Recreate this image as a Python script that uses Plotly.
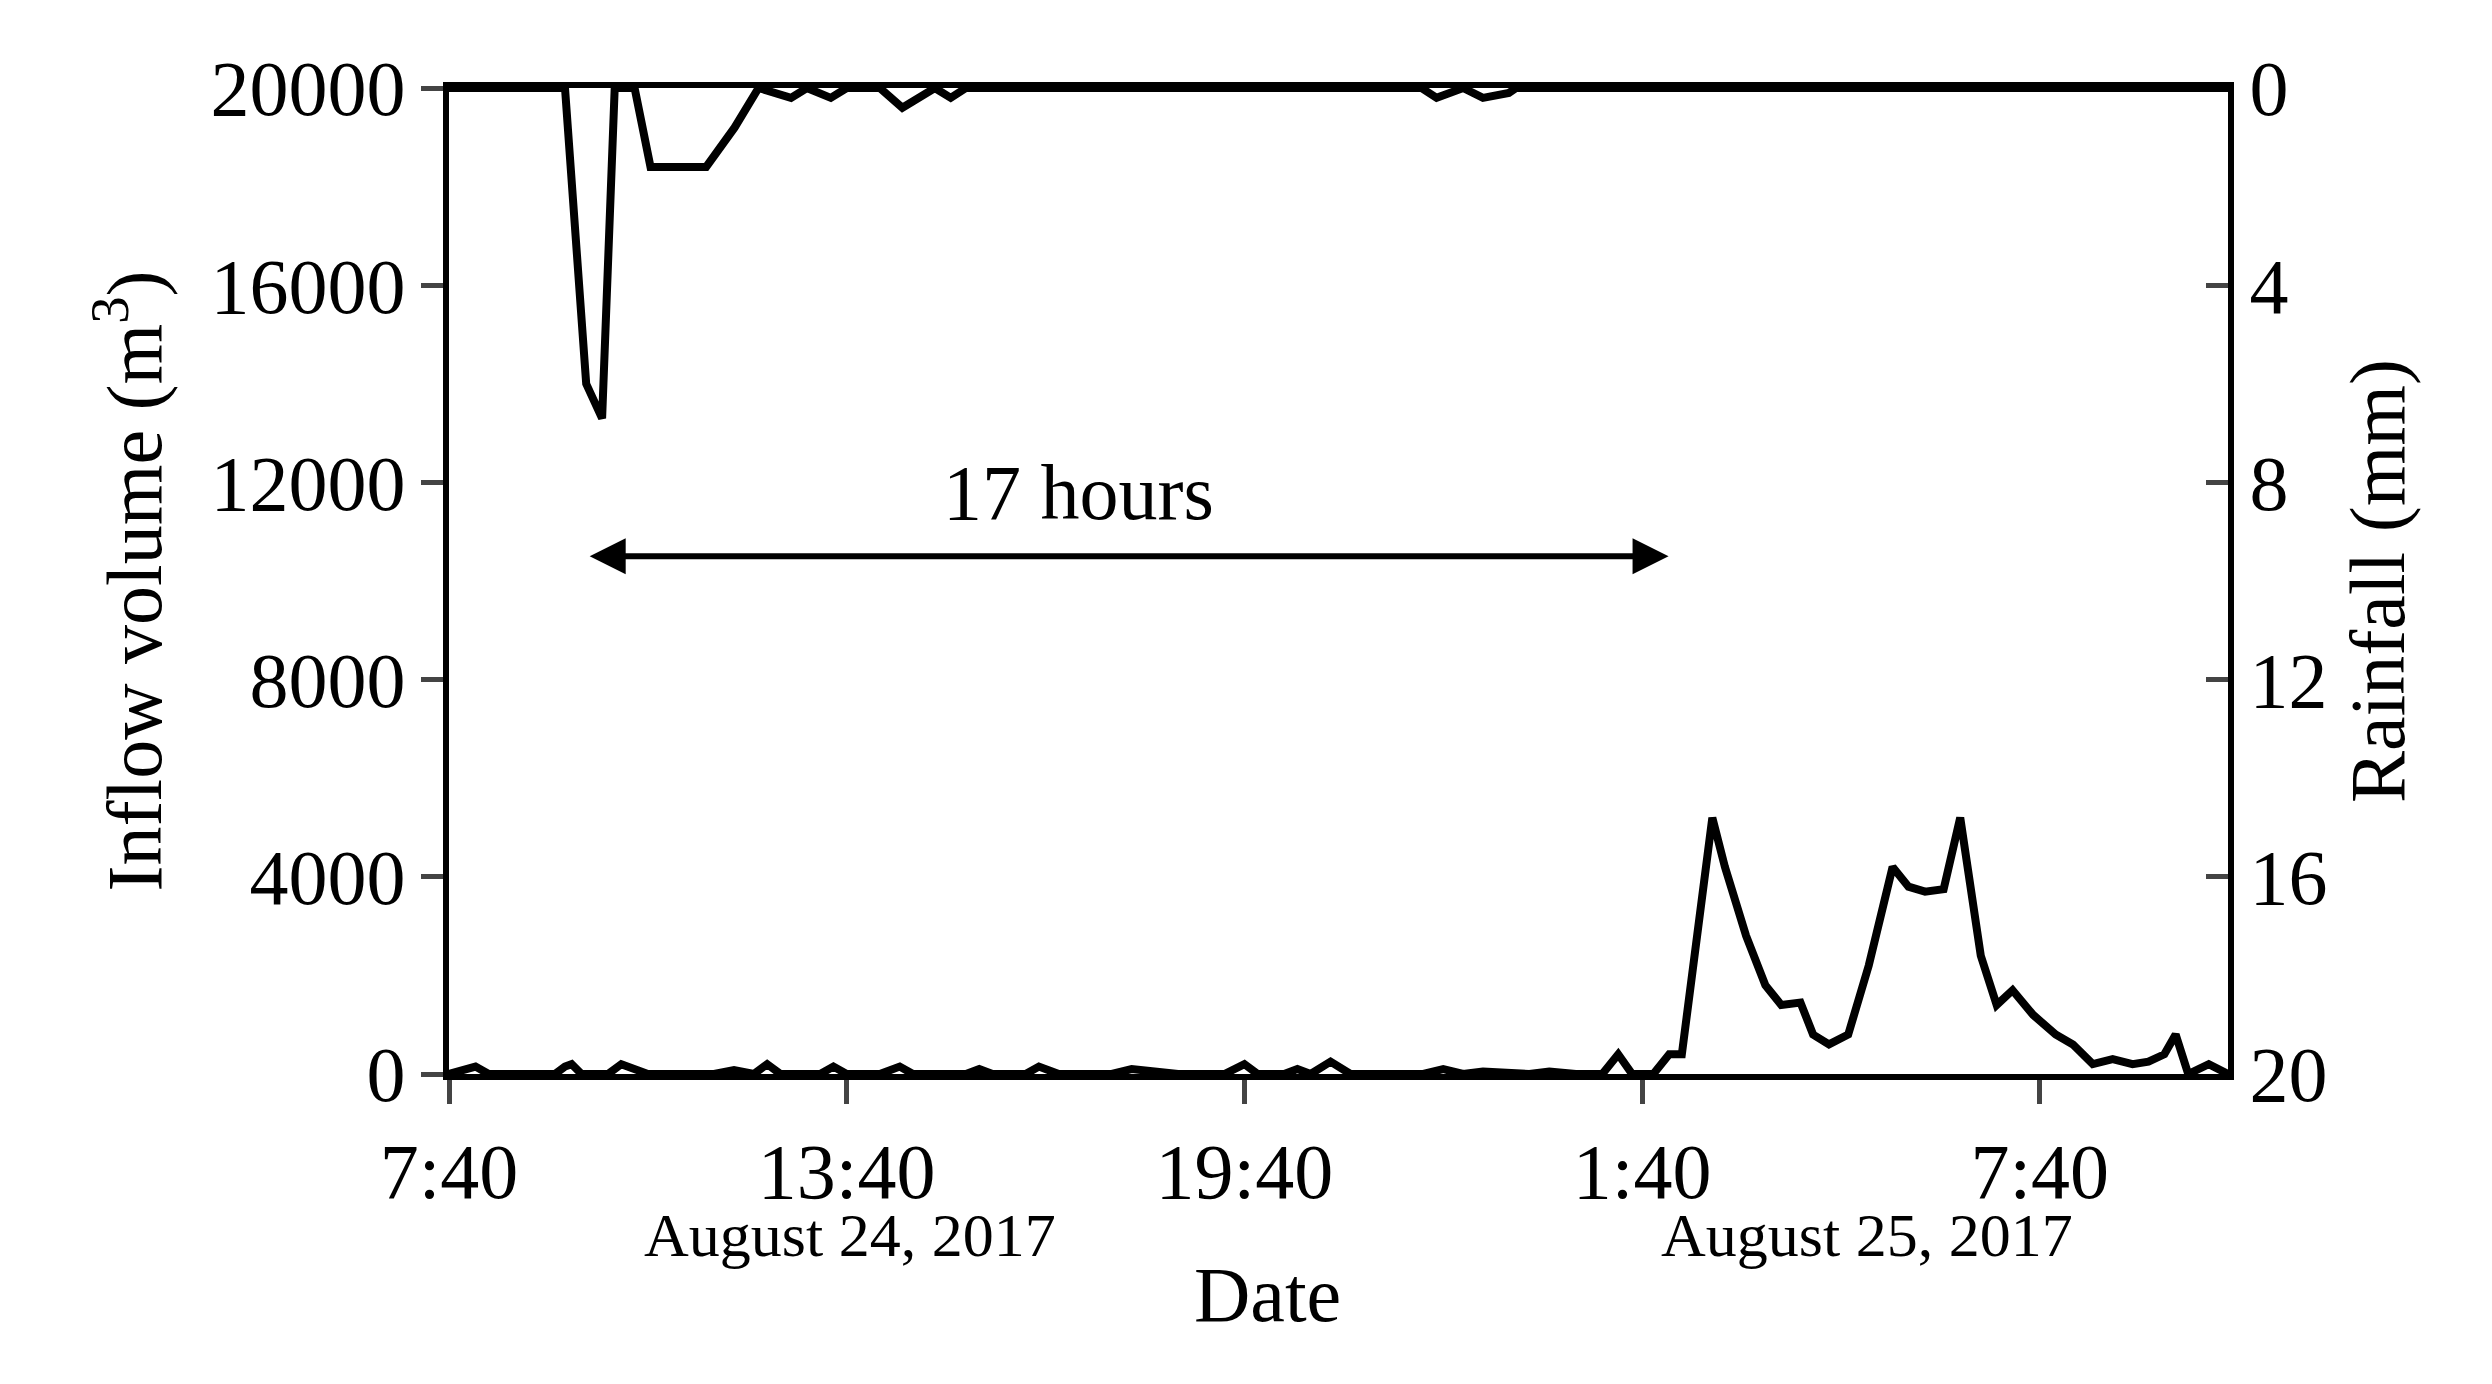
import plotly.graph_objects as go

# hours since 7:40 Aug 24
inflow_h = [0,0.4,0.6,1.0,1.6,1.75,1.85,2.0,2.4,2.6,2.85,3.0,4.0,4.3,4.6,4.8,5.0,5.3,5.6,5.8,6.0,6.3,6.5,6.8,7.0,7.8,8.0,8.2,8.7,8.9,9.2,9.6,10.0,10.3,11.0,11.7,12.0,12.2,12.6,12.8,13.0,13.3,13.6,14.2,14.7,15.0,15.3,15.6,16.0,16.3,16.6,17.0,17.4,17.64,17.85,18.17,18.41,18.6,19.06,19.25,19.57,19.86,20.1,20.39,20.58,20.82,21.11,21.42,21.78,22.02,22.27,22.55,22.8,23.11,23.35,23.59,23.9,24.24,24.5,24.8,25.1,25.4,25.64,25.88,26.05,26.24,26.55,26.84]
inflow_v = [0,150,0,0,0,150,200,0,0,200,100,0,0,80,0,200,0,0,0,150,0,0,0,150,0,0,100,0,0,150,0,0,0,100,0,0,200,0,0,100,0,250,0,0,0,100,0,50,0,0,50,0,0,400,0,0,400,400,5200,4200,2800,1800,1400,1450,800,600,800,2200,4200,3800,3700,3750,5200,2400,1400,1700,1200,800,600,200,300,200,250,400,800,0,200,0]
rain_h = [0,1.75,2.07,2.31,2.5,2.8,3.04,3.88,4.31,4.67,5.16,5.4,5.76,6.0,6.5,6.84,7.33,7.57,7.8,14.67,14.9,15.3,15.6,15.99,16.1,26.84]
rain_v = [0,0,6.0,6.7,0,0,1.6,1.6,0.8,0,0.2,0,0.2,0,0,0.4,0,0.2,0,0,0.2,0,0.2,0.1,0,0]
xtick_vals = [0,6,12,18,24]
xtick_text = ["7:40","13:40","19:40","1:40","7:40"]

F = "Liberation Serif"
fig = go.Figure()
fig.add_trace(go.Scatter(x=inflow_h, y=inflow_v, mode="lines", line=dict(color="black", width=8)))
fig.add_trace(go.Scatter(x=rain_h, y=rain_v, mode="lines", line=dict(color="black", width=8), yaxis="y2"))
fig.update_layout(
    width=2492, height=1384, showlegend=False, plot_bgcolor="white", paper_bgcolor="white",
    margin=dict(l=441, r=272, t=80, b=318),
    font=dict(family=F, color="black", size=78),
    xaxis=dict(range=[0, 26.84], tickvals=xtick_vals, ticktext=xtick_text, ticks="outside", ticklen=24, tickwidth=5,
               showline=True, linewidth=6, linecolor="black", mirror=True, showgrid=False, zeroline=False,
               tickfont=dict(size=78)),
    yaxis=dict(range=[0, 20000], tickvals=[0,4000,8000,12000,16000,20000], tickformat="d", ticks="outside",
               ticklen=22, tickwidth=5, showline=True, linewidth=6, linecolor="black", showgrid=False, zeroline=False,
               tickfont=dict(size=78),
               title=dict(text="Inflow volume (m<sup>3</sup>)", font=dict(size=78), standoff=25)),
    yaxis2=dict(range=[20, 0], overlaying="y", side="right", tickvals=[0,4,8,12,16,20], ticks="inside", ticklen=22,
                tickwidth=5, showline=True, linewidth=6, linecolor="black", showgrid=False, zeroline=False,
                tickfont=dict(size=78),
                title=dict(text="Rainfall (mm)", font=dict(size=78), standoff=25)),
)
fig.add_annotation(x=18.4, y=10500, ax=2.1, ay=10500, xref="x", yref="y", axref="x", ayref="y",
                   showarrow=True, arrowhead=2, arrowsize=1.2, arrowwidth=6, arrowcolor="black",
                   arrowside="end+start", text="")
fig.add_annotation(x=9.5, y=11800, xref="x", yref="y", text="17 hours", showarrow=False, font=dict(size=78))
fig.add_annotation(x=6.05, y=-0.2, xref="x", yref="paper", text="August 24, 2017", showarrow=False, font=dict(size=62))
fig.add_annotation(x=21.4, y=-0.2, xref="x", yref="paper", text="August 25, 2017", showarrow=False, font=dict(size=62))
fig.add_annotation(x=0.46, y=-0.27, xref="paper", yref="paper", text="Date", showarrow=False, font=dict(size=78))
fig.write_html("out.html")
